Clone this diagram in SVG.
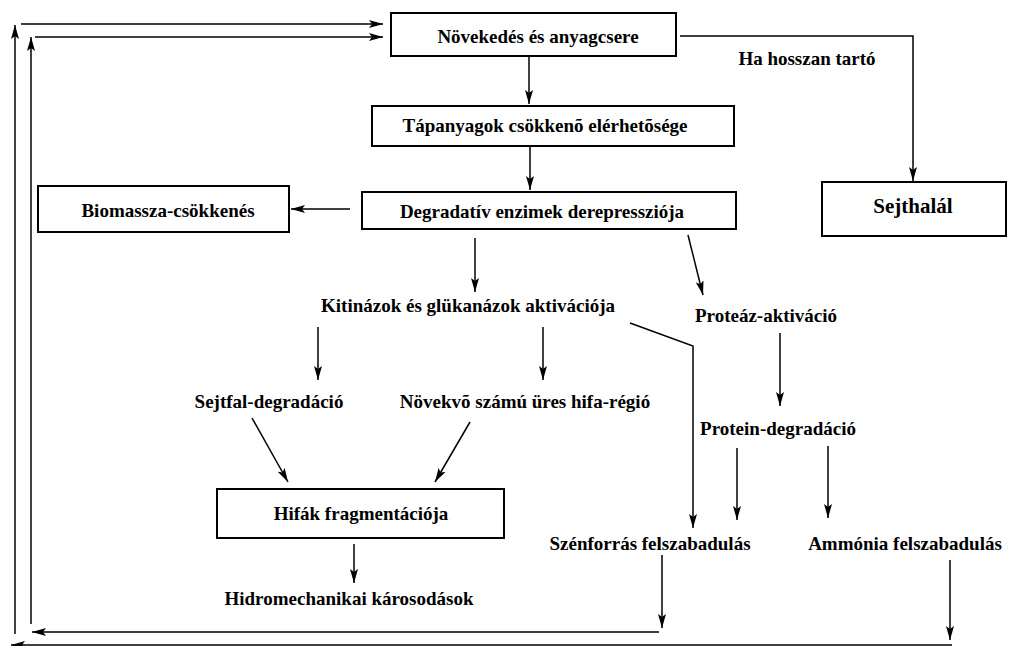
<svg xmlns="http://www.w3.org/2000/svg" width="1010" height="646" viewBox="0 0 1010 646">
<style>
  .box { fill: #fff; stroke: #000; stroke-width: 2; }
  .t { font-family: "Liberation Serif", "Times New Roman", serif; font-weight: bold; font-size: 19px; fill: #000; text-anchor: middle; }
  .big { font-size: 21px; }
  .c { fill: none; stroke: #000; stroke-width: 1.5; }
  .a { marker-end: url(#ah); }
</style>
<defs>
  <marker id="ah" viewBox="0 0 14 8" refX="14" refY="4" markerWidth="14" markerHeight="8" markerUnits="userSpaceOnUse" orient="auto">
    <path d="M0,0 L14,4 L0,8 L3,4 z" fill="#000"/>
  </marker>
</defs>
<rect width="1010" height="646" fill="#fff"/>
<g id="connectors">
  <line class="c a" x1="15" y1="634" x2="15" y2="25"/>
  <line class="c a" x1="21" y1="24" x2="383" y2="24"/>
  <line class="c a" x1="31" y1="624" x2="31" y2="37"/>
  <line class="c a" x1="35" y1="37" x2="383" y2="37"/>
  <line class="c a" x1="529" y1="56" x2="529" y2="104"/>
  <line class="c a" x1="530" y1="146" x2="530" y2="190"/>
  <polyline class="c a" points="680,36 913,36 913,181"/>
  <line class="c a" x1="350" y1="209" x2="291" y2="209"/>
  <line class="c a" x1="475" y1="238" x2="475" y2="292"/>
  <line class="c a" x1="688" y1="235" x2="703" y2="295"/>
  <line class="c a" x1="318" y1="327" x2="318" y2="380"/>
  <line class="c a" x1="543" y1="327" x2="543" y2="380"/>
  <polyline class="c a" points="630,323 693,346 693,528"/>
  <line class="c a" x1="780" y1="333" x2="780" y2="406"/>
  <line class="c a" x1="737" y1="448" x2="737" y2="520"/>
  <line class="c a" x1="828" y1="446" x2="828" y2="518"/>
  <line class="c a" x1="252" y1="418" x2="288" y2="482"/>
  <line class="c a" x1="470" y1="422" x2="435" y2="482"/>
  <line class="c a" x1="354" y1="544" x2="354" y2="583"/>
  <line class="c a" x1="662" y1="555" x2="662" y2="628"/>
  <line class="c a" x1="659" y1="632" x2="32" y2="632"/>
  <line class="c a" x1="950" y1="560" x2="950" y2="640"/>
  <line class="c a" x1="952" y1="645" x2="11" y2="645"/>
</g>
<g id="n-novekedes">
  <rect class="box" x="391" y="13" width="285" height="43"/>
  <text class="t" x="538" y="43">Növekedés és anyagcsere</text>
</g>
<g id="n-tapanyagok">
  <rect class="box" x="372" y="106" width="362" height="40"/>
  <text class="t" x="545" y="132">Tápanyagok csökkenõ elérhetõsége</text>
</g>
<g id="n-degradativ">
  <rect class="box" x="362" y="192" width="374" height="37"/>
  <text class="t" x="542" y="218">Degradatív enzimek derepressziója</text>
</g>
<g id="n-biomassza">
  <rect class="box" x="38" y="186" width="251" height="46"/>
  <text class="t" x="168" y="217">Biomassza-csökkenés</text>
</g>
<g id="n-sejthalal">
  <rect class="box" x="822" y="182" width="184" height="54"/>
  <text class="t big" x="913" y="213">Sejthalál</text>
</g>
<g id="n-ha">
  <text class="t" x="807" y="65">Ha hosszan tartó</text>
</g>
<g id="n-kitinazok">
  <text class="t" x="468" y="312">Kitinázok és glükanázok aktivációja</text>
</g>
<g id="n-proteaz">
  <text class="t" x="766" y="322">Proteáz-aktiváció</text>
</g>
<g id="n-sejtfal">
  <text class="t" x="269" y="408">Sejtfal-degradáció</text>
</g>
<g id="n-novekvo">
  <text class="t" x="525" y="408">Növekvõ számú üres hifa-régió</text>
</g>
<g id="n-protein">
  <text class="t" x="778" y="435">Protein-degradáció</text>
</g>
<g id="n-hifak">
  <rect class="box" x="217" y="489" width="287" height="49"/>
  <text class="t" x="361" y="520">Hifák fragmentációja</text>
</g>
<g id="n-hidromech">
  <text class="t" x="349" y="605">Hidromechanikai károsodások</text>
</g>
<g id="n-szenforras">
  <text class="t" x="650" y="550">Szénforrás felszabadulás</text>
</g>
<g id="n-ammonia">
  <text class="t" x="905" y="550">Ammónia felszabadulás</text>
</g>
</svg>
